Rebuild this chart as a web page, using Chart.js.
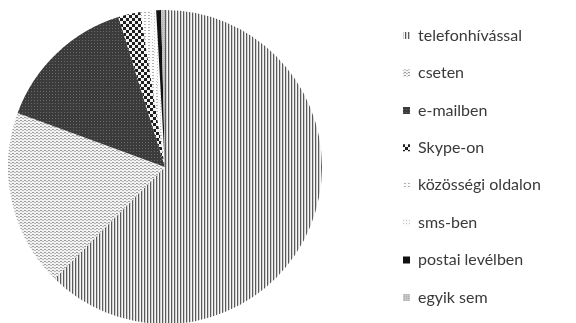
<!DOCTYPE html>
<html>
<head>
<meta charset="utf-8">
<script src="https://cdn.jsdelivr.net/npm/chart.js@4.4.1/dist/chart.umd.min.js"></script>
<style>
  html, body { margin: 0; padding: 0; background: #fff; }
  #wrap { width: 576px; height: 323px; }
</style>
</head>
<body>
<div id="wrap"><canvas id="myChart"></canvas></div>
<script>
// data (percent)
const labels = ['telefonhívással', 'cseten', 'e-mailben', 'Skype-on',
                'közösségi oldalon', 'sms-ben', 'postai levélben', 'egyik sem'];
const shares = [62.4, 18.2, 14.6, 2.3, 1.0, 0.6, 0.5, 0.4];

// small bitmap fills, like the hatched slices of the original
function makePattern(w, h, bg, dots) {
  const c = document.createElement('canvas');
  c.width = w; c.height = h;
  const g = c.getContext('2d');
  g.fillStyle = bg;
  g.fillRect(0, 0, w, h);
  dots.forEach(d => {
    g.fillStyle = d[4];
    g.fillRect(d[0], d[1], d[2], d[3]);
  });
  return g.createPattern(c, 'repeat');
}

const fills = [
  makePattern(3, 1, '#f6f6f6', [[0, 0, 1, 1, '#5a5a5a'], [1, 0, 1, 1, '#cfcfcf']]),
  makePattern(4, 3, '#f2f2f2', [[0, 0, 2, 1, '#9c9c9c'], [2, 1, 2, 1, '#b8b8b8']]),
  makePattern(3, 3, '#3b3b3b', [[1, 1, 1, 1, '#6a6a6a']]),
  makePattern(6, 6, '#f4f4f4', [[0, 0, 3, 3, '#1e1e1e'], [3, 3, 3, 3, '#1e1e1e']]),
  makePattern(4, 3, '#fbfbfb', [[0, 0, 2, 1, '#b0b0b0']]),
  makePattern(3, 3, '#fafafa', [[1, 1, 1, 1, '#c4c4c4']]),
  '#111111',
  makePattern(2, 2, '#c6c6c6', [[0, 0, 1, 1, '#b0b0b0']])
];

// the original pie runs off the bottom edge and the legend sits far right,
// so nudge chart area and legend after chart.js has laid them out
const pieBox = { left: 8, top: 10, size: 314 };
const legendBoxX = 403;
const legendDy = 5;
const placeBoxes = {
  id: 'placeBoxes',
  afterLayout(chart) {
    const a = chart.chartArea;
    a.left = pieBox.left;
    a.top = pieBox.top;
    a.right = pieBox.left + pieBox.size;
    a.bottom = pieBox.top + pieBox.size;
    a.width = pieBox.size;
    a.height = pieBox.size;

    const lg = chart.legend;
    const dx = legendBoxX - lg.options.labels.padding - lg.left;
    lg.left += dx;
    lg.right += dx;
    lg.top += legendDy;
    lg.bottom += legendDy;
  }
};

const data1 = {
  labels: labels,
  datasets: [{
    data: shares,
    backgroundColor: fills,
    borderWidth: 0
  }]
};

const config = {
  type: 'pie',
  data: data1,
  plugins: [placeBoxes],
  options: {
    responsive: true,
    maintainAspectRatio: false,
    animation: false,
    layout: { padding: { left: 8, top: 0, bottom: 0, right: 83 } },
    plugins: {
      tooltip: { enabled: false },
      legend: {
        position: 'right',
        labels: {
          boxWidth: 7,
          boxHeight: 7,
          padding: 21.4,
          color: '#3a3a3a',
          font: { family: 'Lato', size: 16 }
        }
      }
    }
  }
};

const myChart = new Chart(document.getElementById('myChart'), config);
</script>
</body>
</html>
